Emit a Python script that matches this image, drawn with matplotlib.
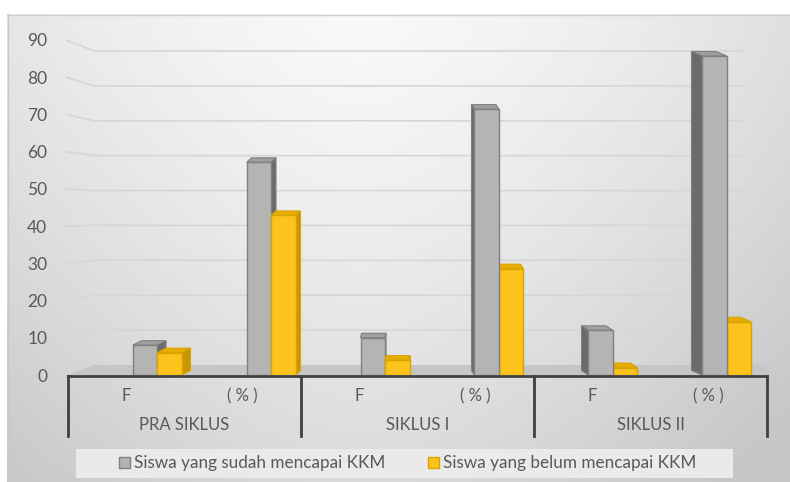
import numpy as np
import matplotlib
matplotlib.use("Agg")
import matplotlib.pyplot as plt
from matplotlib.patches import Polygon, Rectangle

# ---------------- data ----------------
groups = ["PRA SIKLUS", "SIKLUS I", "SIKLUS II"]
subcats = ["F", "( % )"]
series_names = ["Siswa yang sudah mencapai KKM", "Siswa yang belum mencapai KKM"]
sudah = [8, 57.14, 10, 71.43, 12, 85.71]
belum = [6, 42.86, 4, 28.57, 2, 14.29]
yticks = [0, 10, 20, 30, 40, 50, 60, 70, 80, 90]

# ---------------- layout ----------------
W, H = 790, 482
FONT = ["Lato", "DejaVu Sans"]
plt.rcParams['font.family'] = FONT
TXT = "#595959"

fig = plt.figure(figsize=(W / 100, H / 100), dpi=100)
fig.patch.set_facecolor("white")

# background / decoration axes in pixel coordinates
bg = fig.add_axes([0, 0, 1, 1])
bg.set_xlim(0, W)
bg.set_ylim(H, 0)
bg.axis("off")

top_px, left_px = 14, 7
hh, ww = H - top_px, W - left_px
yy, xx = np.mgrid[0:hh, 0:ww]
yn = yy / hh
xn = xx / ww
val = 0.975 - 0.12 * yn ** 1.3 - 0.10 * np.abs(xn - 0.45) ** 1.5 * 2.4
val = np.clip(val, 0.78, 1.0)
img = np.dstack([val, val, val])
bg.imshow(img, extent=(left_px, W, H, top_px), aspect="auto", zorder=0,
          interpolation="bilinear")
bg.plot([left_px, W], [top_px + 0.5, top_px + 0.5], color="#d0d0d0", lw=1, zorder=1)
bg.plot([left_px + 0.5, left_px + 0.5], [top_px, H], color="#c8c8c8", lw=1, zorder=1)

# axis geometry
x_left, x_right = 68, 767
y0_px, y90_px = 375, 40
ncat = len(sudah)
xu = (x_right - x_left) / ncat
yu = (y0_px - y90_px) / 90.0
floor_back = 365
back_scale = (floor_back - 51) / 90.0

# floor
bg.add_patch(Polygon([(x_left, y0_px), (x_right, y0_px), (x_right, floor_back),
                      (94, floor_back)], closed=True, facecolor="#c6c6c6",
                     edgecolor="none", zorder=2))

# back-wall gridlines
for v in yticks[1:]:
    yl = y0_px - v * yu
    yb = floor_back - v * back_scale
    bg.plot([66, 94, 743], [yl, yb, yb], color="#d6d6d6", lw=1.2, zorder=2,
            solid_capstyle="butt")

# main data axes
ax = fig.add_axes([x_left / W, 1 - y0_px / H, (x_right - x_left) / W,
                   (y0_px - y90_px) / H])
ax.set_xlim(0, ncat)
ax.set_ylim(0, 90)
ax.patch.set_alpha(0)
for s in ax.spines.values():
    s.set_visible(False)
ax.set_xticks([])
ax.set_yticks(yticks)
ax.set_yticklabels([str(t) for t in yticks], fontsize=12.5, color=TXT)
ax.tick_params(axis="y", length=0, pad=15)

# bars with a simple 3D look
bw = 24.5 / xu
dy = 4.5 / yu
styles = [
    dict(front="#b4b4b4", top="#a0a0a0", side="#6b6b6b", edge="#808080"),
    dict(front="#fcc31c", top="#e8ab00", side="#c99500", edge="#d9a400"),
]


def draw_bar(x0, h, dxp, st, z):
    dx = dxp / xu
    x1 = x0 + bw
    ax.bar(x0, h, width=bw, align="edge", color=st["front"],
           edgecolor=st["edge"], linewidth=1, zorder=z + 0.5)
    top = [(x0, h), (x1, h), (x1 + dx, h + dy), (x0 + dx, h + dy)]
    ax.add_patch(Polygon(top, closed=True, facecolor=st["top"],
                         edgecolor=st["edge"], lw=0.8, zorder=z))
    xs = x1 if dx > 0 else x0
    side = [(xs, 0), (xs, h), (xs + dx, h + dy), (xs + dx, dy)]
    ax.add_patch(Polygon(side, closed=True, facecolor=st["side"],
                         edgecolor=st["edge"], lw=0.8, zorder=z))


for i in range(ncat):
    shift = (31 - 2.6 * i) / xu
    c = i + 0.5 + shift
    cpx = x_left + c * xu
    dxp = 9 - (cpx - 150) * (19 / 555)
    xg = c - bw
    xy = c
    if dxp > 0:
        draw_bar(xg, sudah[i], dxp, styles[0], 3)
        draw_bar(xy, belum[i], dxp, styles[1], 5)
    else:
        draw_bar(xy, belum[i], dxp, styles[1], 3)
        draw_bar(xg, sudah[i], dxp, styles[0], 5)

# category axis (multi-level)
bg.plot([x_left, x_right], [y0_px + 1, y0_px + 1], color="#404040", lw=2, zorder=3)
for k in range(len(groups) + 1):
    xv = x_left + k * 2 * xu
    bg.plot([xv, xv], [y0_px + 1, 436], color="#404040", lw=2, zorder=3)
for i in range(ncat):
    bg.text(x_left + (i + 0.5) * xu, 396, subcats[i % 2], ha="center",
            va="center", fontsize=12, color=TXT, zorder=4)
for g, name in enumerate(groups):
    bg.text(x_left + (2 * g + 1) * xu, 425, name, ha="center", va="center",
            fontsize=12, color=TXT, zorder=4)

# legend
bg.add_patch(Rectangle((76, 449), 733 - 76, 29, facecolor="#eaeaea",
                       edgecolor="none", zorder=3))
leg_x = [119, 428]
for j, st in enumerate(styles):
    bg.add_patch(Rectangle((leg_x[j], 457), 11, 11, facecolor=st["front"],
                           edgecolor=st["edge"], lw=1, zorder=4))
    bg.text(leg_x[j] + 15, 463, series_names[j], ha="left", va="center",
            fontsize=12.3, color=TXT, zorder=4)

fig.savefig("out.png", dpi=100)
